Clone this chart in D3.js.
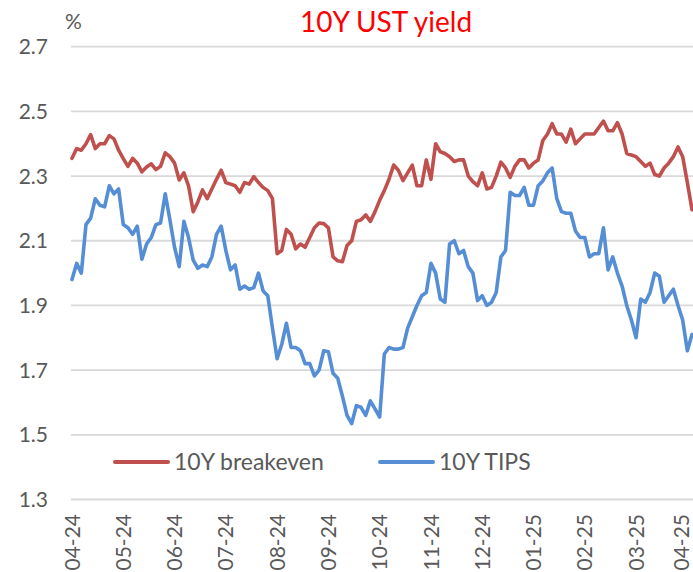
<!DOCTYPE html>
<html>
<head>
<meta charset="utf-8">
<script src="https://cdn.jsdelivr.net/npm/d3@7"></script>
<style>
  html, body { margin: 0; padding: 0; background: #ffffff; }
  svg { display: block; }
</style>
</head>
<body>
<div id="chart"></div>
<script>
// 10Y breakeven inflation and 10Y TIPS real yield, %, sampled every other trading day
const breakeven = [
  2.355, 2.385, 2.38, 2.40, 2.428, 2.385, 2.40, 2.40, 2.425, 2.415,
  2.38, 2.354, 2.33, 2.355, 2.34, 2.313, 2.328, 2.338, 2.32, 2.33,
  2.372, 2.36, 2.34, 2.288, 2.31, 2.27, 2.19, 2.22, 2.257, 2.23,
  2.26, 2.29, 2.318, 2.28, 2.275, 2.27, 2.25, 2.28, 2.275, 2.298,
  2.28, 2.265, 2.255, 2.23, 2.06, 2.07, 2.135, 2.12, 2.075, 2.09,
  2.08, 2.11, 2.14, 2.155, 2.153, 2.14, 2.05, 2.038, 2.035, 2.085,
  2.10, 2.16, 2.165, 2.18, 2.16, 2.19, 2.225, 2.255, 2.29, 2.334,
  2.318, 2.286, 2.31, 2.334, 2.27, 2.27, 2.35, 2.29, 2.40, 2.375,
  2.37, 2.36, 2.345, 2.35, 2.35, 2.30, 2.283, 2.27, 2.31, 2.26,
  2.265, 2.30, 2.343, 2.325, 2.296, 2.33, 2.35, 2.35, 2.325, 2.34,
  2.35, 2.41, 2.43, 2.462, 2.43, 2.43, 2.405, 2.445, 2.40, 2.415,
  2.43, 2.43, 2.43, 2.45, 2.47, 2.44, 2.44, 2.465, 2.43, 2.37,
  2.365, 2.36, 2.345, 2.33, 2.34, 2.305, 2.30, 2.325, 2.34, 2.36,
  2.39, 2.36, 2.28, 2.196
];

const tips = [
  1.98, 2.03, 2.0, 2.15, 2.17, 2.23, 2.21, 2.205, 2.27, 2.245,
  2.26, 2.15, 2.14, 2.12, 2.145, 2.043, 2.09, 2.11, 2.15, 2.155,
  2.245, 2.165, 2.08, 2.02, 2.16, 2.11, 2.04, 2.015, 2.025, 2.02,
  2.05, 2.12, 2.145, 2.07, 2.01, 2.025, 1.95, 1.96, 1.95, 1.955,
  2.0, 1.945, 1.93, 1.83, 1.735, 1.78, 1.845, 1.77, 1.77, 1.76,
  1.72, 1.72, 1.682, 1.70, 1.76, 1.757, 1.69, 1.675, 1.62, 1.56,
  1.535, 1.59, 1.585, 1.56, 1.605, 1.58, 1.555, 1.75, 1.77, 1.765,
  1.765, 1.77, 1.83, 1.865, 1.90, 1.93, 1.94, 2.03, 2.0, 1.92,
  1.91, 2.09, 2.1, 2.06, 2.07, 2.02, 2.0, 1.915, 1.93, 1.9,
  1.91, 1.94, 2.05, 2.07, 2.25, 2.24, 2.24, 2.265, 2.21, 2.21,
  2.27, 2.285, 2.31, 2.325, 2.23, 2.19, 2.185, 2.185, 2.13, 2.11,
  2.11, 2.05, 2.06, 2.06, 2.14, 2.01, 2.05, 2.0, 1.96, 1.90,
  1.855, 1.80, 1.92, 1.91, 1.94, 2.0, 1.99, 1.91, 1.93, 1.95,
  1.90, 1.855, 1.76, 1.81
];

// month labels, one every 11 samples
const monthLabels = ["04-24", "05-24", "06-24", "07-24", "08-24", "09-24", "10-24",
                     "11-24", "12-24", "01-25", "02-25", "03-25", "04-25"];
const labelEvery = 11;

const yTicks = [1.3, 1.5, 1.7, 1.9, 2.1, 2.3, 2.5, 2.7];

const seriesNames = ["10Y breakeven", "10Y TIPS"];
const seriesColors = ["#C0504D", "#558ED5"];

const W = 693, H = 572;
const FONT = "Lato, 'Open Sans', sans-serif";
const GREY = "#595959";

const svg = d3.select("#chart").append("svg")
  .attr("width", W).attr("height", H);

const x = d3.scaleLinear().domain([0, breakeven.length - 1]).range([72, 692]);
const y = d3.scaleLinear().domain([1.3, 2.7]).range([499.5, 46.7]);

// horizontal gridlines
svg.append("g").selectAll("line").data(yTicks).join("line")
  .attr("x1", 71).attr("x2", W)
  .attr("y1", d => y(d)).attr("y2", d => y(d))
  .attr("stroke", "#D9D9D9").attr("stroke-width", 1.8);

// y tick labels
svg.append("g").selectAll("text").data(yTicks).join("text")
  .attr("x", 48).attr("y", d => y(d)).attr("dy", "0.36em")
  .attr("text-anchor", "end")
  .attr("font-family", FONT).attr("font-size", 21).attr("fill", GREY)
  .text(d => d.toFixed(1));

// unit label
svg.append("text")
  .attr("x", 65).attr("y", 29)
  .attr("font-family", FONT).attr("font-size", 21).attr("fill", GREY)
  .text("%");

// title
svg.append("text")
  .attr("x", 386).attr("y", 31.5).attr("text-anchor", "middle")
  .attr("font-family", FONT).attr("font-size", 28).attr("fill", "#FF0000")
  .text("10Y UST yield");

// x tick labels, rotated; the last one is kept inside the right edge
svg.append("g").selectAll("text").data(monthLabels).join("text")
  .attr("transform", (d, i) => `translate(${Math.min(x(i * labelEvery), 681)},514) rotate(-90)`)
  .attr("dy", "0.36em")
  .attr("text-anchor", "end")
  .attr("font-family", FONT).attr("font-size", 21).attr("fill", GREY)
  .text(d => d);

// lines
const line = d3.line().x((d, i) => x(i)).y(d => y(d)).curve(d3.curveLinear);
[breakeven, tips].forEach((s, k) => {
  svg.append("path").datum(s)
    .attr("d", line)
    .attr("fill", "none")
    .attr("stroke", seriesColors[k])
    .attr("stroke-width", 3.6)
    .attr("stroke-linejoin", "round")
    .attr("stroke-linecap", "round");
});

// legend
const legendPos = [{x1: 115, x2: 168, tx: 174}, {x1: 380, x2: 433, tx: 439}];
const legendY = 462;
seriesNames.forEach((name, k) => {
  const p = legendPos[k];
  svg.append("line")
    .attr("x1", p.x1).attr("x2", p.x2).attr("y1", legendY).attr("y2", legendY)
    .attr("stroke", seriesColors[k]).attr("stroke-width", 4)
    .attr("stroke-linecap", "round");
  svg.append("text")
    .attr("x", p.tx).attr("y", legendY).attr("dy", "0.36em")
    .attr("font-family", FONT).attr("font-size", 23).attr("fill", GREY)
    .text(name);
});
</script>
</body>
</html>
